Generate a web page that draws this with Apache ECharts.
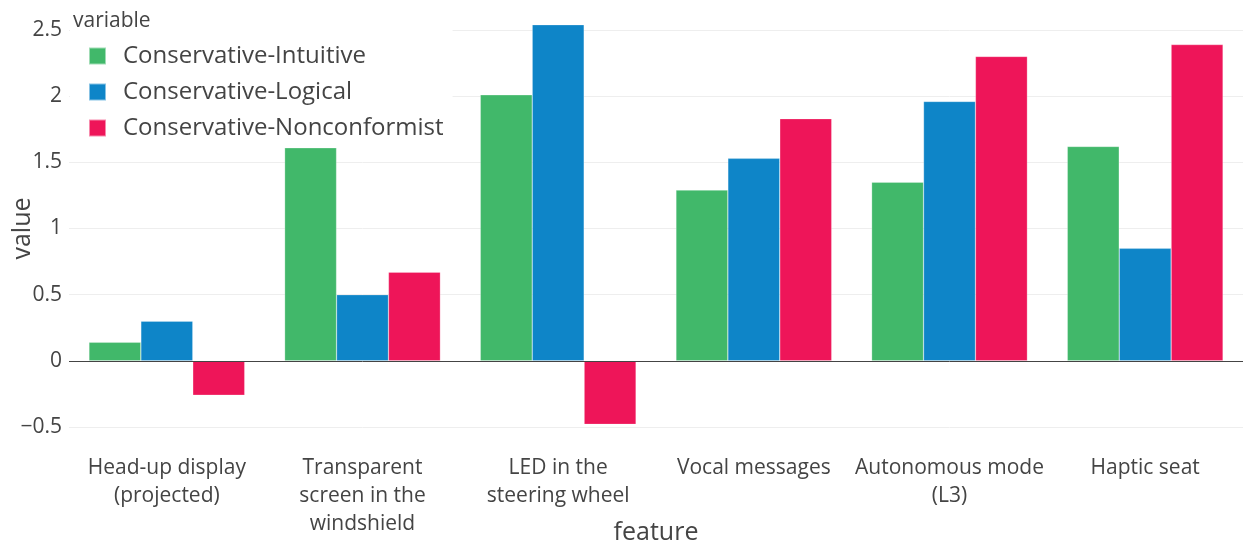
<!DOCTYPE html>
<html>
<head>
<meta charset="utf-8">
<script src="https://cdn.jsdelivr.net/npm/echarts@6/dist/echarts.min.js"></script>
<style>
  html, body { margin: 0; padding: 0; background: #fff; }
  #main { width: 1243px; height: 544px; }
</style>
</head>
<body>
<div id="main"></div>
<script>
// categories and values
var features = [
    'Head-up display\n(projected)',
    'Transparent\nscreen in the\nwindshield',
    'LED in the\nsteering wheel',
    'Vocal messages',
    'Autonomous mode\n(L3)',
    'Haptic seat'
];
var intuitive = [0.14, 1.61, 2.01, 1.29, 1.35, 1.62];
var logical = [0.30, 0.50, 2.54, 1.53, 1.96, 0.85];
var nonconformist = [-0.26, 0.67, -0.48, 1.83, 2.30, 2.39];
var yTicks = [-0.5, 0, 0.5, 1, 1.5, 2, 2.5];

var font = '"Open Sans", "Noto Sans", sans-serif';

function makeBar(name, data, color) {
    return {
        name: name,
        type: 'bar',
        data: data,
        clip: false,
        barGap: '0%',
        barCategoryGap: '20.4%',
        itemStyle: { color: color, borderColor: 'rgba(255,255,255,0.5)', borderWidth: 0.5 }
    };
}

var series = [
    makeBar('Conservative-Intuitive', intuitive, '#41b86a'),
    makeBar('Conservative-Logical', logical, '#0e85c8'),
    makeBar('Conservative-Nonconformist', nonconformist, '#ee1559')
];
// zero line
series[0].markLine = {
    silent: true,
    symbol: 'none',
    label: { show: false },
    lineStyle: { color: '#444', width: 1, type: 'solid' },
    data: [{ yAxis: 0 }]
};

var option = {
    animation: false,
    textStyle: { fontFamily: font },
    title: {
        text: 'variable',
        left: 68,
        top: 6,
        z: 10,
        textStyle: { fontFamily: font, fontSize: 21, fontWeight: 'normal', color: '#444' }
    },
    legend: {
        orient: 'vertical',
        left: 70,
        top: 4,
        z: 8,
        backgroundColor: '#fff',
        padding: [40, 9, 8, 18],
        icon: 'rect',
        itemWidth: 17,
        itemHeight: 17,
        itemGap: 12,
        textStyle: { fontFamily: font, fontSize: 24, lineHeight: 24, color: '#444', padding: [0, 0, 0, 12] },
        data: series.map(function (s) { return s.name; })
    },
    grid: { left: 69, right: 0, top: 30, bottom: 117, outerBoundsMode: 'none' },
    xAxis: {
        type: 'category',
        data: features,
        name: 'feature',
        nameLocation: 'middle',
        nameGap: 93,
        nameMoveOverlap: false,
        nameTextStyle: { fontFamily: font, fontSize: 25, color: '#444' },
        axisLine: { show: false, onZero: false },
        axisTick: { show: false },
        axisLabel: { fontFamily: font, fontSize: 21, color: '#444', lineHeight: 28, margin: 27, interval: 0 }
    },
    yAxis: {
        type: 'value',
        min: yTicks[0],
        max: yTicks[yTicks.length - 1],
        interval: 0.5,
        name: 'value',
        nameLocation: 'middle',
        nameRotate: 90,
        nameGap: 34,
        nameMoveOverlap: false,
        nameTextStyle: { fontFamily: font, fontSize: 25, color: '#444' },
        axisLine: { show: false },
        axisTick: { show: false },
        splitLine: { lineStyle: { color: '#eee', width: 1 } },
        axisLabel: {
            fontFamily: font, fontSize: 21, color: '#444', margin: 7,
            formatter: function (v) { return v < 0 ? '\u2212' + Math.abs(v) : String(v); }
        }
    },
    series: series
};

var chart = echarts.init(document.getElementById('main'));
chart.setOption(option);
</script>
</body>
</html>
